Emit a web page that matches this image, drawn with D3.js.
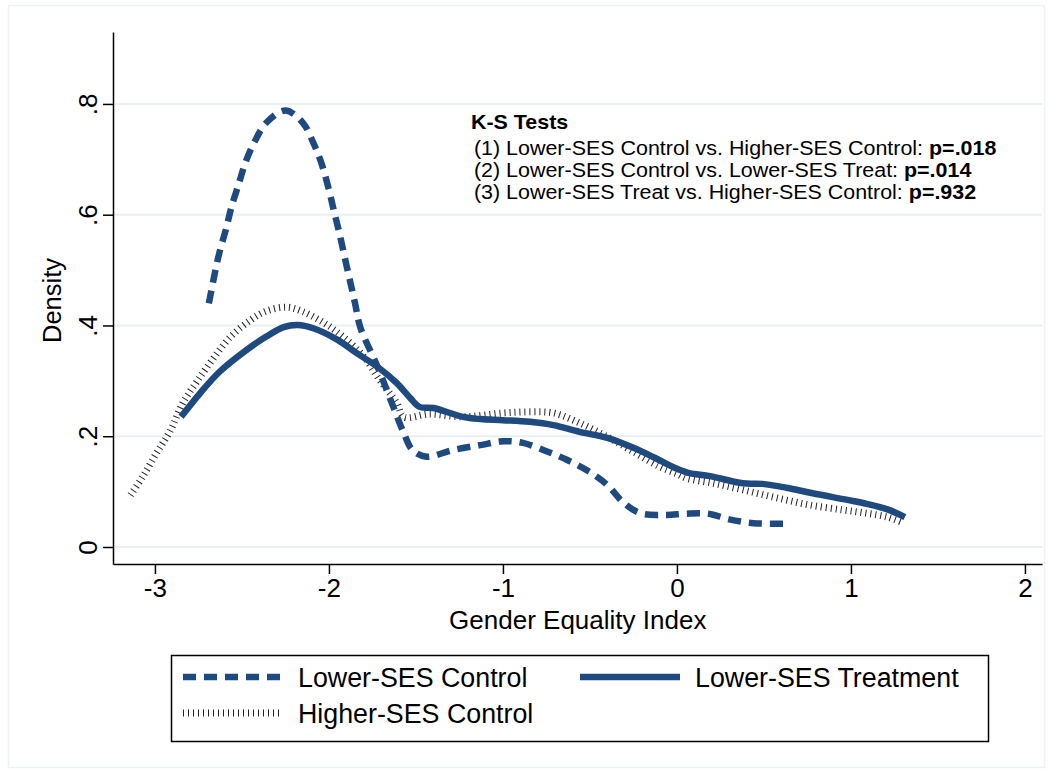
<!DOCTYPE html>
<html><head><meta charset="utf-8">
<script src="https://cdn.jsdelivr.net/npm/d3@7"></script>
<style>
html,body{margin:0;padding:0;background:#fff;}
text{font-family:"Liberation Sans",Arial,sans-serif;fill:#000;}
</style></head>
<body><svg id="c" width="1054" height="774"></svg>
<script>
// ---- data ----
const xTicks = [-3, -2, -1, 0, 1, 2];
const xTickLabels = ["-3", "-2", "-1", "0", "1", "2"];
const yTicks = [0, 0.2, 0.4, 0.6, 0.8];
const yTickLabels = ["0", ".2", ".4", ".6", ".8"];
const seriesNames = ["Lower-SES Control", "Lower-SES Treatment", "Higher-SES Control"];

const lowerControlX = [-2.69,-2.66,-2.63,-2.59,-2.56,-2.52,-2.48,-2.43,-2.36,-2.25,-2.15,-2.09,-2.04,-2.00,-1.97,-1.94,-1.91,-1.88,-1.85,-1.82,-1.72,-1.63,-1.57,-1.52,-1.44,-1.29,-1.13,-1.00,-0.885,-0.75,-0.63,-0.52,-0.40,-0.31,-0.21,-0.06,0.046,0.18,0.30,0.44,0.61];
const lowerControlY = [0.44,0.488,0.531,0.576,0.614,0.654,0.694,0.73,0.766,0.788,0.766,0.73,0.69,0.645,0.605,0.567,0.524,0.482,0.44,0.397,0.325,0.253,0.206,0.175,0.163,0.175,0.184,0.191,0.188,0.173,0.157,0.139,0.112,0.081,0.061,0.058,0.06,0.06,0.05,0.043,0.042];

const treatX = [-2.85,-2.74,-2.63,-2.49,-2.36,-2.26,-2.18,-2.09,-1.95,-1.84,-1.72,-1.61,-1.53,-1.48,-1.40,-1.23,-1.13,-1.00,-0.845,-0.71,-0.56,-0.40,-0.25,-0.14,-0.02,0.065,0.19,0.38,0.49,0.63,0.78,0.98,1.09,1.21,1.31];
const treatY = [0.235,0.278,0.316,0.352,0.38,0.397,0.401,0.395,0.374,0.35,0.325,0.296,0.268,0.253,0.251,0.235,0.231,0.229,0.226,0.22,0.208,0.197,0.179,0.163,0.144,0.134,0.128,0.115,0.114,0.107,0.097,0.085,0.078,0.068,0.054];

const higherControlX = [-3.14,-3.07,-2.99,-2.91,-2.84,-2.76,-2.67,-2.57,-2.45,-2.36,-2.24,-2.15,-2.03,-1.92,-1.80,-1.71,-1.61,-1.57,-1.42,-1.23,-1.00,-0.845,-0.71,-0.56,-0.40,-0.25,-0.10,0.0,0.057,0.21,0.38,0.57,0.76,0.95,1.09,1.21,1.29];
const higherControlY = [0.094,0.127,0.17,0.211,0.26,0.298,0.338,0.378,0.41,0.426,0.433,0.425,0.405,0.38,0.344,0.302,0.26,0.235,0.24,0.235,0.242,0.244,0.242,0.224,0.199,0.172,0.145,0.132,0.124,0.115,0.103,0.089,0.076,0.067,0.061,0.054,0.045];

const ksTitle = "K-S Tests";
const ksLabels = ["(1) Lower-SES Control vs. Higher-SES Control: ", "(2) Lower-SES Control vs. Lower-SES Treat: ", "(3) Lower-SES Treat vs. Higher-SES Control: "];
const ksPvalues = ["p=.018", "p=.014", "p=.932"];

// ---- drawing ----
const svg = d3.select("#c");
const navy = "#1f4a80";
const L = 113, R = 1042, T = 32, B = 564;
const x = d3.scaleLinear().domain([-3.241, 2.098]).range([L, R]);
const y = d3.scaleLinear().domain([-0.0307, 0.9299]).range([B, T]);
const FF = "Liberation Sans, Arial, sans-serif";

// outer faint border
svg.append("rect").attr("x", 8.5).attr("y", 5.5).attr("width", 1036).attr("height", 762)
  .attr("fill", "none").attr("stroke", "#edf2f2").attr("stroke-width", 1.5);

// gridlines
svg.append("g").selectAll("line").data(yTicks).join("line")
  .attr("x1", L).attr("x2", R).attr("y1", d => y(d)).attr("y2", d => y(d))
  .attr("stroke", "#e8f0f1").attr("stroke-width", 2);

// axes
const xAxis = d3.axisBottom(x).tickValues(xTicks).tickFormat((d, i) => xTickLabels[i]).tickSize(10).tickSizeOuter(0).tickPadding(5);
const gx = svg.append("g").attr("transform", `translate(0,${B})`).call(xAxis);
gx.attr("font-size", 26).attr("font-family", FF);
gx.select(".domain").attr("stroke", "#000").attr("stroke-width", 1.5);
gx.selectAll(".tick line").attr("stroke", "#000").attr("stroke-width", 1.5);
gx.selectAll(".tick text").attr("font-size", 26).attr("fill", "#000");

const yAxis = d3.axisLeft(y).tickValues(yTicks).tickFormat((d, i) => yTickLabels[i]).tickSize(10).tickSizeOuter(0);
const gy = svg.append("g").attr("transform", `translate(${L},0)`).call(yAxis);
gy.attr("font-size", 26).attr("font-family", FF);
gy.select(".domain").attr("stroke", "#000").attr("stroke-width", 1.5);
gy.selectAll(".tick line").attr("stroke", "#000").attr("stroke-width", 1.5);
gy.selectAll(".tick text").attr("font-size", 26).attr("fill", "#000")
  .attr("transform", "translate(-25,0) rotate(-90)").attr("x", 0).attr("dy", "0.35em").attr("text-anchor", "middle");

// axis titles
svg.append("text").attr("x", x(-0.57)).attr("y", 629).attr("text-anchor", "middle")
  .attr("font-size", 26).text("Gender Equality Index");
svg.append("text").attr("transform", `translate(61,${y(0.4) - 25}) rotate(-90)`).attr("text-anchor", "middle")
  .attr("font-size", 25.5).text("Density");

// lines
const line = d3.line().x(d => x(d[0])).y(d => y(d[1])).curve(d3.curveCatmullRom.alpha(0.5));
const hc = d3.zip(higherControlX, higherControlY);
const lc = d3.zip(lowerControlX, lowerControlY);
const tr = d3.zip(treatX, treatY);

svg.append("path").attr("d", line(hc)).attr("fill", "none").attr("stroke", "#222")
  .attr("stroke-width", 7).attr("stroke-dasharray", "1,4");
svg.append("path").attr("d", line(tr)).attr("fill", "none").attr("stroke", navy)
  .attr("stroke-width", 6.5).attr("stroke-linejoin", "round");
svg.append("path").attr("d", line(lc)).attr("fill", "none").attr("stroke", navy)
  .attr("stroke-width", 6.5).attr("stroke-dasharray", "13,8");

// KS annotation (slightly widened glyphs to match the reference face)
const ks = svg.append("g").attr("transform", "translate(471,0) scale(1.1,1)");
ks.append("text").attr("x", 0).attr("y", 129).attr("font-size", 19.5).attr("font-weight", "bold").text(ksTitle);
ksLabels.forEach((s, i) => {
  const t = ks.append("text").attr("x", 2.7).attr("y", 155.5 + i * 22).attr("font-size", 19.5);
  t.append("tspan").text(s);
  t.append("tspan").attr("font-weight", "bold").text(ksPvalues[i]);
});

// legend
svg.append("rect").attr("x", 171.5).attr("y", 655.5).attr("width", 817).attr("height", 86)
  .attr("fill", "#fff").attr("stroke", "#000").attr("stroke-width", 1.5);
const leg = [
  {name: seriesNames[0], x0: 183, ty: 677, style: "dash"},
  {name: seriesNames[1], x0: 580, ty: 677, style: "solid"},
  {name: seriesNames[2], x0: 183, ty: 713, style: "dot"}
];
leg.forEach(d => {
  const l = svg.append("line").attr("x1", d.x0).attr("x2", d.x0 + 100).attr("y1", d.ty).attr("y2", d.ty);
  if (d.style === "dash") l.attr("stroke", navy).attr("stroke-width", 6.5).attr("stroke-dasharray", "13,8");
  else if (d.style === "solid") l.attr("stroke", navy).attr("stroke-width", 6.5);
  else l.attr("stroke", "#222").attr("stroke-width", 7).attr("stroke-dasharray", "1,4");
  svg.append("text").attr("x", d.x0 + 115).attr("y", d.ty + 9.5).attr("font-size", 26.8).text(d.name);
});
</script></body></html>
